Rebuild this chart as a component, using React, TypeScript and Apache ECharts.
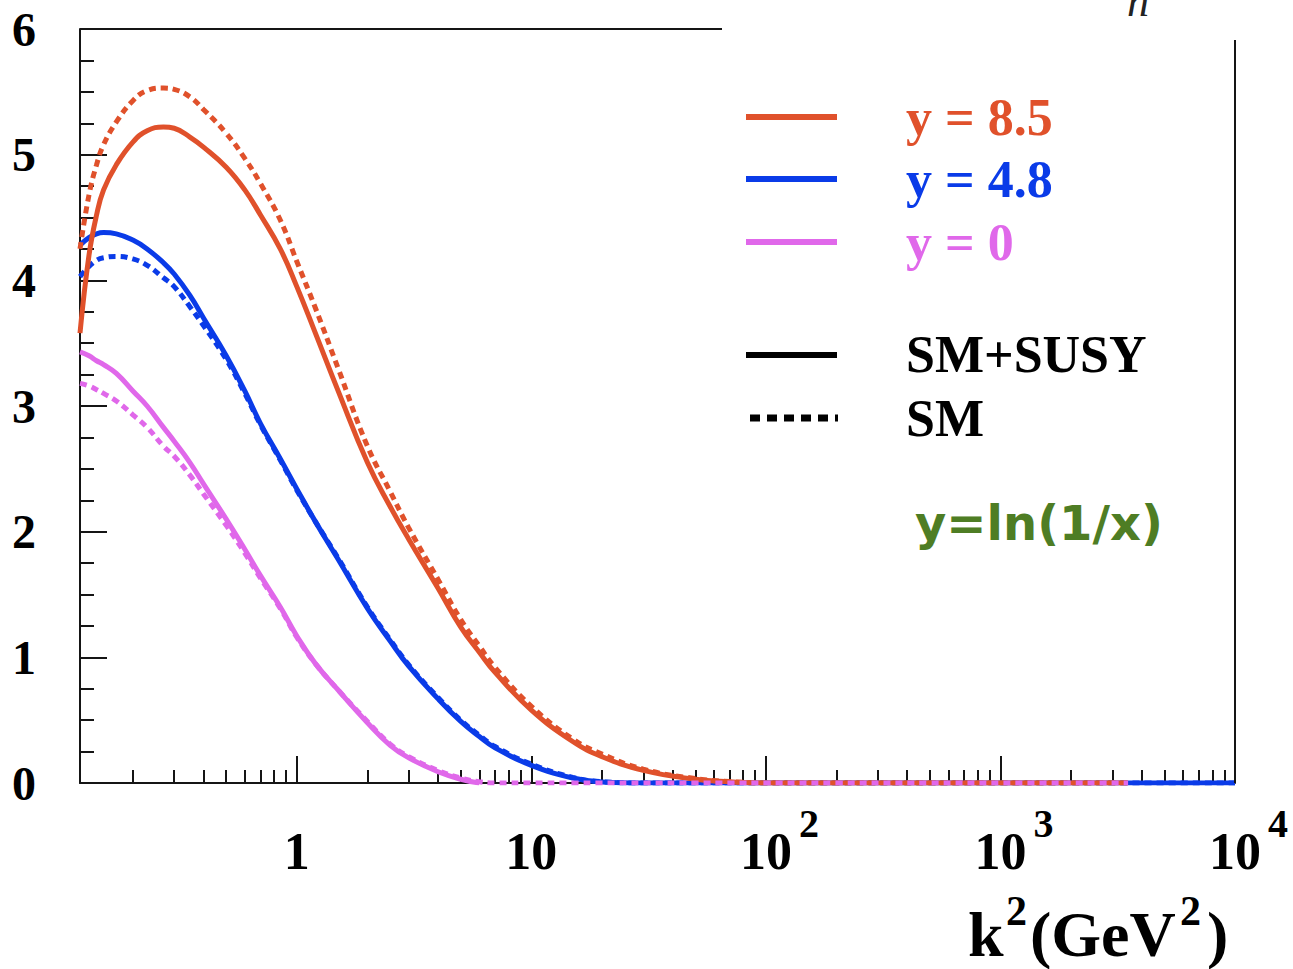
import React, { useEffect, useRef } from "react";
import * as echarts from "echarts";

// k^2 sample points (GeV^2)
const kx = [0.119, 0.13, 0.14, 0.15, 0.17, 0.2, 0.23, 0.27, 0.3, 0.35, 0.4, 0.5, 0.6, 0.7, 0.85, 1, 1.2, 1.5, 2, 2.5, 3, 4, 5, 6, 7, 10, 15, 20, 30, 50, 70, 100, 200, 500, 1000, 3500, 10000];

// y = 8.5
const red85Susy = [3.58, 4.20, 4.52, 4.72, 4.92, 5.10, 5.19, 5.22, 5.21, 5.14, 5.06, 4.90, 4.72, 4.52, 4.25, 3.95, 3.58, 3.12, 2.55, 2.20, 1.94, 1.55, 1.24, 1.04, 0.88, 0.58, 0.33, 0.21, 0.10, 0.03, 0.01, 0, 0, 0, 0, 0, null];
const red85Sm = [4.25, 4.68, 4.92, 5.08, 5.26, 5.43, 5.51, 5.53, 5.52, 5.46, 5.36, 5.17, 4.97, 4.77, 4.48, 4.15, 3.78, 3.30, 2.68, 2.32, 2.03, 1.62, 1.30, 1.09, 0.92, 0.61, 0.35, 0.23, 0.11, 0.035, 0.012, 0, 0, 0, 0, 0, null];
// y = 4.8
const blue48Susy = [4.28, 4.34, 4.37, 4.38, 4.37, 4.32, 4.25, 4.14, 4.05, 3.88, 3.70, 3.40, 3.12, 2.86, 2.58, 2.34, 2.08, 1.78, 1.39, 1.13, 0.93, 0.67, 0.49, 0.37, 0.28, 0.14, 0.04, 0.008, 0, 0, 0, 0, 0, 0, 0, 0, 0];
const blue48Sm = [4.03, 4.11, 4.16, 4.18, 4.19, 4.17, 4.12, 4.02, 3.95, 3.79, 3.64, 3.37, 3.10, 2.85, 2.57, 2.33, 2.08, 1.79, 1.40, 1.14, 0.94, 0.68, 0.50, 0.38, 0.29, 0.15, 0.045, 0.01, 0, 0, 0, 0, 0, 0, 0, 0, 0];
// y = 0
const mag0Susy = [3.43, 3.40, 3.36, 3.33, 3.26, 3.12, 3.00, 2.83, 2.72, 2.55, 2.38, 2.10, 1.86, 1.65, 1.40, 1.17, 0.95, 0.74, 0.48, 0.30, 0.20, 0.09, 0.03, 0, null, null, null, null, null, null, null, null, null, null, null, null, null];
const mag0Sm = [3.18, 3.16, 3.13, 3.10, 3.04, 2.93, 2.83, 2.68, 2.60, 2.45, 2.30, 2.05, 1.83, 1.63, 1.39, 1.16, 0.95, 0.74, 0.49, 0.31, 0.21, 0.10, 0.04, 0.01, 0, 0, 0, 0, 0, 0, 0, 0, 0, 0, 0, 0, null];

// axis ticks / labels
const xMin = 0.119;
const xMax = 10000;
const majorTicks = [1, 10, 100, 1000, 10000];
const majorLabels = ["1", "10", "10", "10", "10"];
const majorSup = ["", "", "2", "3", "4"];
const minorTicks = [0.2, 0.3, 0.4, 0.5, 0.6, 0.7, 0.8, 0.9, 2, 3, 4, 5, 6, 7, 8, 9, 20, 30, 40, 50, 60, 70, 80, 90, 200, 300, 400, 500, 600, 700, 800, 900, 2000, 3000, 4000, 5000, 6000, 7000, 8000, 9000];

const legendColors = ["y = 8.5", "y = 4.8", "y = 0"];
const legendStyles = ["SM+SUSY", "SM"];

const RED = "#e0512b";
const BLUE = "#0a3be8";
const MAG = "#e068ea";
const AX = "#151515";
const SERIF = "'Liberation Serif', 'Times New Roman', serif";

function pairs(vals: (number | null)[]) {
  return kx.map((x, i) => [x, vals[i]]);
}

function lineSeries(name: string, vals: (number | null)[], color: string, dashed: boolean, z: number) {
  return {
    name,
    type: "line",
    xAxisIndex: 0,
    yAxisIndex: 0,
    data: pairs(vals),
    showSymbol: false,
    symbol: "none",
    smooth: 0.45,
    connectNulls: false,
    z,
    lineStyle: { color, width: 5, type: dashed ? [7, 5] : "solid" },
  };
}

export default function App() {
  const ref = useRef<HTMLDivElement>(null);
  useEffect(() => {
    const chart = echarts.init(ref.current!, null, { renderer: "svg" });
    const lmin = Math.log10(xMin);
    const lmax = Math.log10(xMax);
    const option: any = {
      animation: false,
      backgroundColor: "#ffffff",
      grid: { left: 80, right: 58, top: 29, bottom: 186, containLabel: false },
      xAxis: [
        { type: "log", logBase: 10, min: xMin, max: xMax, show: false, position: "bottom" },
        {
          type: "value",
          min: lmin,
          max: lmax,
          position: "bottom",
          axisLine: { show: true, onZero: false, lineStyle: { color: AX, width: 2 } },
          axisTick: { show: true, inside: true, length: 27, customValues: majorTicks.map((v) => Math.log10(v)), lineStyle: { color: AX, width: 2 } },
          axisLabel: {
            show: true,
            customValues: majorTicks.map((v) => Math.log10(v)),
            formatter: (v: number) => majorLabels[Math.round(v)] ?? "",
            fontFamily: SERIF,
            fontWeight: "bold",
            fontSize: 52,
            color: "#000",
            margin: 42,
          },
          splitLine: { show: false },
        },
        {
          type: "value",
          min: lmin,
          max: lmax,
          position: "bottom",
          axisLine: { show: false, onZero: false },
          axisTick: { show: true, inside: true, length: 13, customValues: minorTicks.map((v) => Math.log10(v)), lineStyle: { color: AX, width: 2 } },
          axisLabel: { show: false },
          splitLine: { show: false },
        },
      ],
      yAxis: {
        type: "value",
        min: 0,
        max: 6,
        interval: 1,
        axisLine: { show: true, onZero: false, lineStyle: { color: AX, width: 2 } },
        axisTick: { show: true, inside: true, length: 27, lineStyle: { color: AX, width: 2 } },
        minorTick: { show: true, splitNumber: 4, length: 14, lineStyle: { color: AX, width: 2 } },
        axisLabel: { fontFamily: SERIF, fontWeight: "bold", fontSize: 48, color: "#000", margin: 44 },
        splitLine: { show: false },
      },
      series: [
        lineSeries("y=4.8 SM", blue48Sm, BLUE, true, 2),
        lineSeries("y=4.8 SM+SUSY", blue48Susy, BLUE, false, 3),
        lineSeries("y=8.5 SM", red85Sm, RED, true, 4),
        lineSeries("y=8.5 SM+SUSY", red85Susy, RED, false, 5),
        lineSeries("y=0 SM+SUSY", mag0Susy, MAG, false, 6),
        lineSeries("y=0 SM", mag0Sm, MAG, true, 7),
      ],
    };
    chart.setOption(option);

    const txt = (text: string, x: number, y: number, fontSize: number, fill: string, extra: any = {}) => ({
      type: "text",
      x,
      y,
      z: 100,
      style: {
        text,
        fill,
        fontSize,
        fontFamily: SERIF,
        fontWeight: "bold",
        align: "left",
        verticalAlign: "middle",
        ...extra,
      },
    });
    const hline = (x1: number, x2: number, y: number, stroke: string, lineWidth: number, dash?: number[]) => ({
      type: "line",
      z: 100,
      shape: { x1, y1: y, x2, y2: y },
      style: { stroke, lineWidth, lineDash: dash },
    });

    const graphics: any[] = [];
    // frame pieces
    graphics.push({ type: "line", z: 50, shape: { x1: 80, y1: 29, x2: 722, y2: 29 }, style: { stroke: AX, lineWidth: 2 } });
    graphics.push({ type: "line", z: 50, shape: { x1: 1235, y1: 40, x2: 1235, y2: 783 }, style: { stroke: AX, lineWidth: 2 } });
    // clipped title glyph at the top edge (cut in the reference too)
    graphics.push(txt("n", 1127, 1, 44, "#222", { fontWeight: "normal", fontStyle: "italic" }));
    // legend
    const legendCols = [RED, BLUE, MAG];
    const legendY = [117, 179, 242];
    legendColors.forEach((t, i) => {
      graphics.push(hline(746, 837, legendY[i], legendCols[i], 6));
      graphics.push(txt(t, 906, legendY[i], 52, legendCols[i]));
    });
    graphics.push(hline(746, 837, 355, "#000", 6));
    graphics.push(txt(legendStyles[0], 906, 354, 52, "#000"));
    graphics.push(hline(750, 838, 418, "#000", 7, [10, 7]));
    graphics.push(txt(legendStyles[1], 906, 418, 52, "#000"));
    graphics.push(txt("y=ln(1/x)", 915, 523, 48, "#4e7d24", { fontFamily: "'Comic Sans MS', 'DejaVu Sans', sans-serif" }));
    // superscripts of the tick labels
    majorTicks.forEach((v, i) => {
      if (!majorSup[i]) return;
      const px = chart.convertToPixel({ xAxisIndex: 0 } as any, v) as number;
      graphics.push(txt(majorSup[i], px + 33, 823, 40, "#000"));
    });
    // axis title k^2 (GeV^2)
    graphics.push(txt("k", 968, 934, 64, "#000"));
    graphics.push(txt("2", 1006, 911, 42, "#000"));
    graphics.push(txt("(GeV", 1030, 934, 64, "#000"));
    graphics.push(txt("2", 1180, 911, 42, "#000"));
    graphics.push(txt(")", 1207, 934, 64, "#000"));

    chart.setOption({ graphic: graphics });
    return () => chart.dispose();
  }, []);
  return <div ref={ref} style={{ position: "absolute", left: 0, top: 0, width: 1293, height: 969, background: "#fff" }} />;
}
